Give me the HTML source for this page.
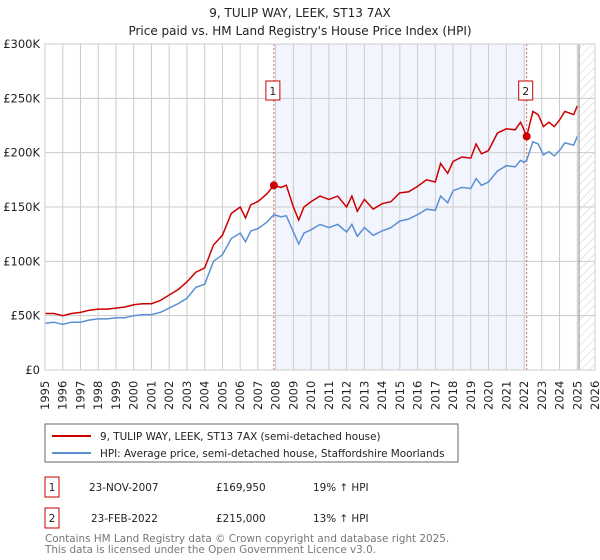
<!DOCTYPE html>
<html><head><meta charset="utf-8"><style>
body{margin:0;background:#fff;font-family:"DejaVu Sans","Liberation Sans",sans-serif;}
svg{display:block}
</style></head><body>
<svg width="600" height="560" viewBox="0 0 600 560" xmlns="http://www.w3.org/2000/svg">
<defs><pattern id="hatch" width="6" height="6" patternUnits="userSpaceOnUse" patternTransform="rotate(45)"><line x1="0" y1="0" x2="0" y2="6" stroke="#ccc" stroke-width="1"/></pattern></defs>
<text x="300" y="17" text-anchor="middle" font-size="12" fill="#222">9, TULIP WAY, LEEK, ST13 7AX</text>
<text x="300" y="35" text-anchor="middle" font-size="12" fill="#222">Price paid vs. HM Land Registry's House Price Index (HPI)</text>
<g id="plot"></g>
<g id="legend">
<rect x="45" y="424" width="413" height="38" fill="#fff" stroke="#666"/>
<line x1="52" y1="436" x2="91" y2="436" stroke="#cc0000" stroke-width="2"/>
<text x="100" y="440" font-size="10.4" fill="#222">9, TULIP WAY, LEEK, ST13 7AX (semi-detached house)</text>
<line x1="52" y1="453" x2="91" y2="453" stroke="#5b8fd4" stroke-width="2"/>
<text x="100" y="457" font-size="10.4" fill="#222">HPI: Average price, semi-detached house, Staffordshire Moorlands</text>
</g>
<g font-size="10.4" fill="#222">
<rect x="45" y="477" width="14" height="20" fill="#fff" stroke="#cc0000"/>
<text x="52" y="491" text-anchor="middle">1</text>
<text x="89" y="491">23-NOV-2007</text><text x="216" y="491">£169,950</text><text x="313" y="491">19% ↑ HPI</text>
</g>
<g font-size="10.4" fill="#222">
<rect x="45" y="508" width="14" height="20" fill="#fff" stroke="#cc0000"/>
<text x="52" y="522" text-anchor="middle">2</text>
<text x="91" y="522">23-FEB-2022</text><text x="216" y="522">£215,000</text><text x="313" y="522">13% ↑ HPI</text>
</g>
<text x="45" y="542" font-size="10.4" fill="#777">Contains HM Land Registry data © Crown copyright and database right 2025.</text>
<text x="45" y="553" font-size="10.4" fill="#777">This data is licensed under the Open Government Licence v3.0.</text>
</svg>
<script>
const hpiYears=[1995,1995.5,1996,1996.5,1997,1997.5,1998,1998.5,1999,1999.5,2000,2000.5,2001,2001.5,2002,2002.5,2003,2003.5,2004,2004.5,2005,2005.5,2006,2006.3,2006.6,2007,2007.5,2007.9,2008.3,2008.6,2009,2009.3,2009.6,2010,2010.5,2011,2011.5,2012,2012.3,2012.6,2013,2013.5,2014,2014.5,2015,2015.5,2016,2016.5,2017,2017.3,2017.7,2018,2018.5,2019,2019.3,2019.6,2020,2020.5,2021,2021.5,2021.8,2022,2022.15,2022.5,2022.8,2023.1,2023.4,2023.7,2024,2024.3,2024.8,2025];
const hpiValues=[43,44,42,44,44,46,47,47,48,48,50,51,51,53,57,61,66,76,79,100,106,121,126,118,128,130,136,143,141,142,127,116,126,129,134,131,134,127,134,123,131,124,128,131,137,139,143,148,147,160,154,165,168,167,176,170,173,183,188,187,193,191,193,210,208,198,201,197,202,209,207,215];
const priceValues=[52,52,50,52,53,55,56,56,57,58,60,61,61,64,69,74,81,90,94,115,124,144,150,140,152,155,162,170,168,170,150,138,150,155,160,157,160,150,160,146,157,148,153,155,163,164,169,175,173,190,181,192,196,195,208,199,202,218,222,221,228,221,215,238,235,224,228,224,230,238,235,243];
const yTicks=[0,50,100,150,200,250,300];
const yTickLabels=["£0","£50K","£100K","£150K","£200K","£250K","£300K"];
const xTickYears=[1995,1996,1997,1998,1999,2000,2001,2002,2003,2004,2005,2006,2007,2008,2009,2010,2011,2012,2013,2014,2015,2016,2017,2018,2019,2020,2021,2022,2023,2024,2025,2026];
const saleYears=[2007.9,2022.15];
const salePrices=[169.95,215];
const saleLabels=["1","2"];
const L=45,R=595,T=44,B=370,x0=1995,x1=2026,yMax=300;
const X=y=>L+(y-x0)/(x1-x0)*(R-L);
const Y=v=>B-v/yMax*(B-T);
const NS="http://www.w3.org/2000/svg";
const g=document.getElementById('plot');
function mk(t,a,p){const e=document.createElementNS(NS,t);for(const k in a)e.setAttribute(k,a[k]);(p||g).appendChild(e);return e;}
mk('rect',{x:X(saleYears[0]),y:T,width:X(saleYears[1])-X(saleYears[0]),height:B-T,fill:'#eef2fc',opacity:0.75});
const hatch=mk('rect',{x:X(2025.1),y:T,width:R-X(2025.1),height:B-T,fill:'url(#hatch)'});


xTickYears.forEach(yr=>{
 mk('line',{x1:X(yr),x2:X(yr),y1:T,y2:B,stroke:'#ccc','stroke-width':1});
 const t=mk('text',{transform:`translate(${X(yr)+4},${B+40}) rotate(-90)`,'font-size':11.5,fill:'#222'});
 t.textContent=yr;
 
 
});
yTicks.forEach((v,i)=>{
 mk('line',{x1:L,x2:R,y1:Y(v),y2:Y(v),stroke:'#ccc','stroke-width':1});
 const t=mk('text',{x:L-5,y:Y(v)+4,'text-anchor':'end','font-size':11.5,fill:'#222'});
 t.textContent=yTickLabels[i];
 
 
});
mk('line',{x1:X(2025.1),x2:X(2025.1),y1:T,y2:B,stroke:'#888','stroke-width':1});
saleYears.forEach((yr,i)=>{
 mk('line',{x1:X(yr),x2:X(yr),y1:T,y2:B,stroke:'#e06060','stroke-width':1,'stroke-dasharray':'2,2'});
});
const hp=mk('path',{d:hpiYears.map((yr,i)=>(i?'L':'M')+X(yr).toFixed(1)+','+Y(hpiValues[i]).toFixed(1)).join(''),fill:'none',stroke:'#5b8fd4','stroke-width':1.5});


const pp=mk('path',{d:hpiYears.map((yr,i)=>(i?'L':'M')+X(yr).toFixed(1)+','+Y(priceValues[i]).toFixed(1)).join(''),fill:'none',stroke:'#cc0000','stroke-width':1.5});


saleYears.forEach((yr,i)=>{
 const c=mk('circle',{cx:X(yr),cy:Y(salePrices[i]),r:4,fill:'#cc0000'});
 
 
 const bx=mk('rect',{x:X(yr)-8,y:81,width:14,height:19,fill:'#fff',stroke:'#cc0000'});
 
 
 const t=mk('text',{x:X(yr)-1,y:95,'text-anchor':'middle','font-size':11,fill:'#222'});
 t.textContent=saleLabels[i];
});
mk('rect',{x:L,y:T,width:R-L,height:B-T,fill:'none',stroke:'#ccc'});
</script>
</body></html>
